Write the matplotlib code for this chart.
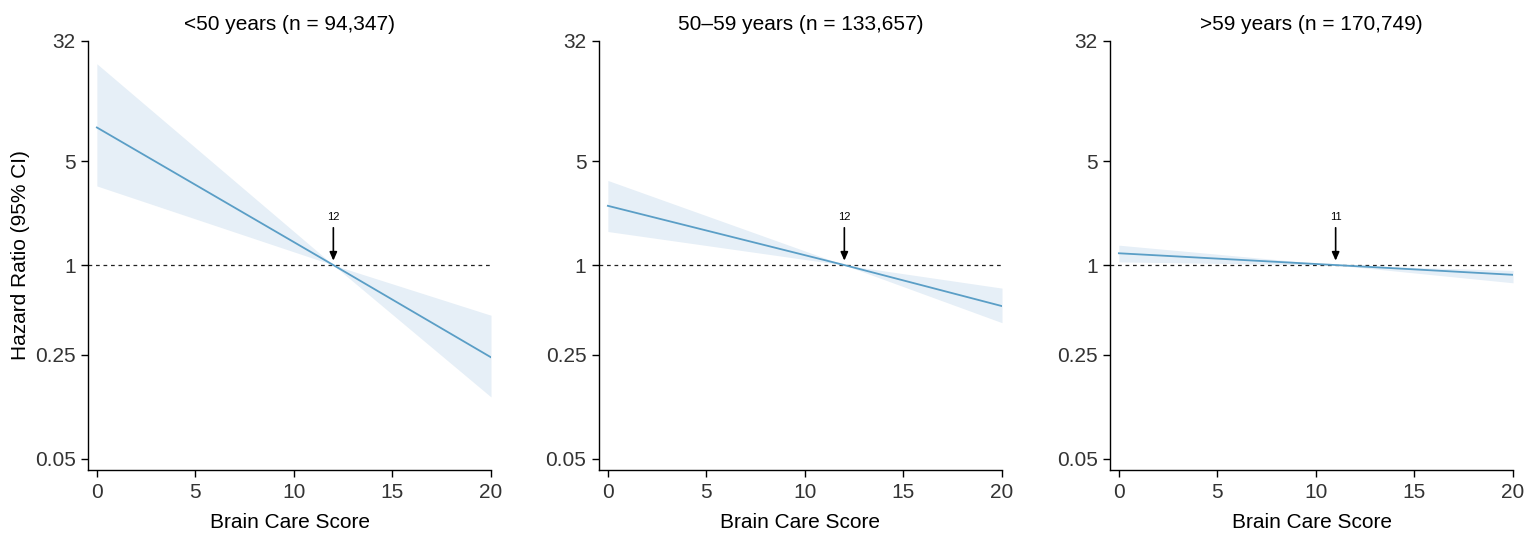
import matplotlib
matplotlib.use("Agg")
from matplotlib import pyplot as plt
from matplotlib.ticker import FixedLocator, NullLocator

plt.rcParams['font.family'] = ['Liberation Sans', 'DejaVu Sans']

# values (hazard ratio on a log scale)
titles = ["<50 years (n = 94,347)", "50\u201359 years (n = 133,657)", ">59 years (n = 170,749)"]
ref_scores = [12, 12, 11]

x_young = [0, 12, 20]
hr_young = [8.4, 1.0, 0.24]
lo_young = [3.4, 1.0, 0.13]
hi_young = [22.5, 1.0, 0.46]

x_mid = [0, 12, 20]
hr_mid = [2.5, 1.0, 0.53]
lo_mid = [1.68, 1.0, 0.41]
hi_mid = [3.7, 1.0, 0.70]

x_old = [0, 11, 20]
hr_old = [1.20, 1.0, 0.86]
lo_old = [1.05, 1.0, 0.76]
hi_old = [1.36, 1.0, 0.92]

y_ticks = [0.05, 0.25, 1, 5, 32]
y_ticklabels = ["0.05", "0.25", "1", "5", "32"]
x_ticks = [0, 5, 10, 15, 20]

panels = [
    (x_young, hr_young, lo_young, hi_young),
    (x_mid, hr_mid, lo_mid, hi_mid),
    (x_old, hr_old, lo_old, hi_old),
]

line_col = "#5a9ec6"
band_col = "#e6eff7"
tick_col = "#333333"

W, H = 1535, 548
fig = plt.figure(figsize=(W / 100, H / 100), dpi=100)
lefts = [88, 599, 1110]
top, bottom = 41, 470
width = 403

for i, (xs, hr, lo, hi) in enumerate(panels):
    ax = fig.add_axes([lefts[i] / W, 1 - bottom / H, width / W, (bottom - top) / H])
    ax.fill_between(xs, lo, hi, color=band_col, linewidth=0, zorder=1)
    ax.axhline(1, color="#222222", linestyle=(0, (3, 3)), linewidth=0.9, zorder=2)
    ax.plot(xs, hr, color=line_col, linewidth=1.3, zorder=3)

    ax.set_yscale("log")
    ax.set_ylim(0.042, 32)
    ax.set_xlim(-0.45, 20)
    ax.yaxis.set_major_locator(FixedLocator(y_ticks))
    ax.yaxis.set_minor_locator(NullLocator())
    ax.set_yticklabels(y_ticklabels)
    ax.set_xticks(x_ticks)

    for s in ["top", "right"]:
        ax.spines[s].set_visible(False)
    for s in ["left", "bottom"]:
        ax.spines[s].set_linewidth(1.0)
        ax.spines[s].set_color("black")
    ax.tick_params(direction="out", length=5, width=1.0, labelsize=15,
                   labelcolor=tick_col, pad=4)

    r = ref_scores[i]
    ax.annotate("", xy=(r, 1.07), xytext=(r, 1.78),
                arrowprops=dict(arrowstyle="-|>,head_length=0.5,head_width=0.22",
                                color="black", lw=1.2, shrinkA=0, shrinkB=0),
                zorder=4)
    ax.text(r, 2.1, str(r), ha="center", va="center", fontsize=8, color="black")

    ax.set_title(titles[i], fontsize=15, pad=8)
    ax.set_xlabel("Brain Care Score", fontsize=15)
    ax.xaxis.set_label_coords(0.5, -0.1)
    if i == 0:
        ax.set_ylabel("Hazard Ratio (95% CI)", fontsize=15)
        ax.yaxis.set_label_coords(-0.145, 0.5)

fig.savefig("out.png", dpi=100)
